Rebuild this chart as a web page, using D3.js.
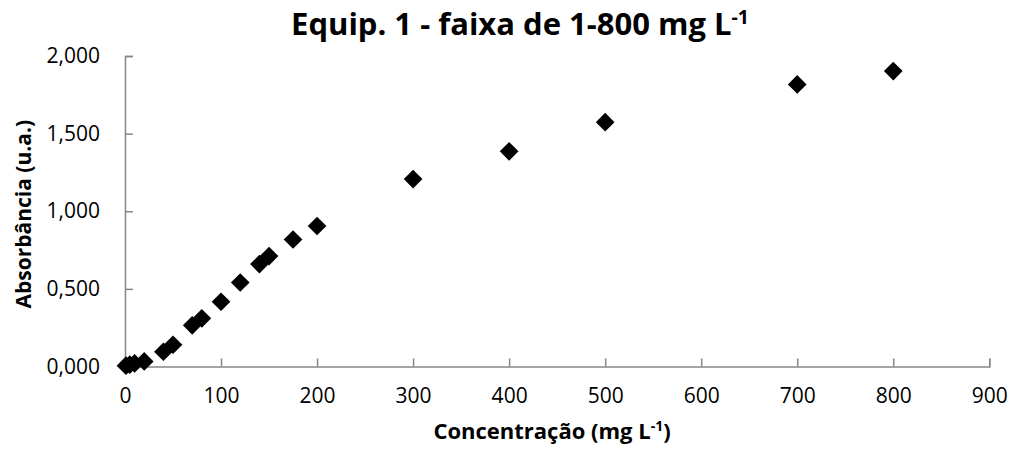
<!DOCTYPE html>
<html>
<head>
<meta charset="utf-8">
<script src="https://cdn.jsdelivr.net/npm/d3@7"></script>
<style>
  html, body { margin: 0; padding: 0; background: #fff; }
  svg { display: block; font-family: "Open Sans", sans-serif; }
</style>
</head>
<body>
<svg id="chart" width="1013" height="451"></svg>
<script>
// Calibration points: concentration (mg/L) vs absorbance (a.u.)
const concentration = [1, 5, 10, 20, 40, 50, 70, 80, 100, 120, 140, 150, 175, 200, 300, 400, 500, 700, 800];
const absorbance    = [0.005, 0.012, 0.020, 0.033, 0.095, 0.140, 0.265, 0.310, 0.417, 0.541, 0.660, 0.711, 0.818, 0.905, 1.207, 1.386, 1.574, 1.817, 1.903];

const xTicks = [0, 100, 200, 300, 400, 500, 600, 700, 800, 900];
const yTicks = [0, 0.5, 1.0, 1.5, 2.0];

const svg = d3.select("#chart");
const W = 1013, H = 451;
const margin = { left: 125, right: W - 989.3, top: 56, bottom: H - 366.5 };

const x = d3.scaleLinear().domain([0, 900]).range([margin.left, W - margin.right]);
const y = d3.scaleLinear().domain([0, 2]).range([H - margin.bottom, margin.top]);

const axisColor = "#868686";
const fmtY = v => d3.format(".3f")(v).replace(".", ",");

// X axis: tick marks point inward (up)
const gx = svg.append("g")
  .attr("transform", `translate(0,${y(0)})`)
  .call(d3.axisBottom(x).tickValues(xTicks).tickSize(-8).tickPadding(22).tickFormat(d3.format("d")));
gx.select(".domain").attr("stroke", axisColor).attr("stroke-width", 1.5);
gx.selectAll(".tick line").attr("stroke", axisColor).attr("stroke-width", 1.5);
gx.selectAll(".tick text").attr("font-size", 21).attr("fill", "#000").attr("font-family", "Open Sans");

// Y axis: tick marks point inward (right)
const gy = svg.append("g")
  .attr("transform", `translate(${x(0)},0)`)
  .call(d3.axisLeft(y).tickValues(yTicks).tickSize(-8).tickPadding(25).tickFormat(fmtY));
gy.select(".domain").attr("stroke", axisColor).attr("stroke-width", 1.5);
gy.selectAll(".tick line").attr("stroke", axisColor).attr("stroke-width", 1.5);
gy.selectAll(".tick text").attr("font-size", 21).attr("fill", "#000").attr("font-family", "Open Sans");

// Diamond markers
const diamond = d3.symbol().type(d3.symbolSquare).size(175);
svg.append("g")
  .selectAll("path")
  .data(concentration.map((c, i) => [c, absorbance[i]]))
  .join("path")
  .attr("d", diamond)
  .attr("fill", "#000")
  .attr("transform", d => `translate(${x(d[0])},${y(d[1])}) rotate(45)`);

// Title
const title = svg.append("text")
  .attr("x", 520).attr("y", 35)
  .attr("text-anchor", "middle")
  .attr("font-size", 31).attr("font-weight", "bold").attr("fill", "#000");
title.append("tspan").text("Equip. 1 - faixa de 1-800 mg L");
title.append("tspan").attr("font-size", 19.5).attr("dy", -11).text("-1");

// X axis title
const xt = svg.append("text")
  .attr("x", 552).attr("y", 439)
  .attr("text-anchor", "middle")
  .attr("font-size", 22).attr("font-weight", "bold").attr("fill", "#000");
xt.append("tspan").text("Concentração (mg L");
xt.append("tspan").attr("font-size", 14).attr("dy", -8).text("-1");
xt.append("tspan").attr("dy", 8).text(")");

// Y axis title
svg.append("text")
  .attr("transform", `translate(31,${(y(0) + y(2)) / 2 + 3}) rotate(-90)`)
  .attr("text-anchor", "middle")
  .attr("font-size", 21).attr("font-weight", "bold").attr("fill", "#000")
  .text("Absorbância (u.a.)");
</script>
</body>
</html>
